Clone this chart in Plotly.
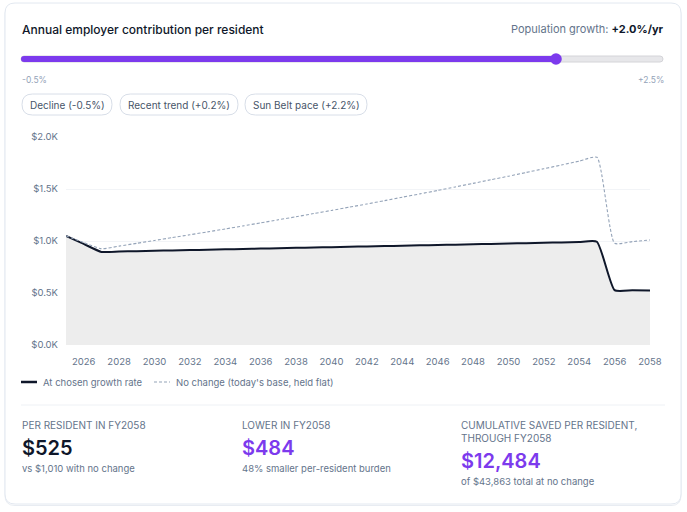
import plotly.graph_objects as go

W, H = 687, 512
FONT = "Inter"
INK = "#0f172a"
MUTED = "#64748b"
FAINT = "#94a3b8"
PURPLE = "#7c3aed"

# --- data ---
years = list(range(2025, 2059))
chosen = [1050, 972,
          895, 899, 902, 906, 909, 913, 916, 920, 923, 927, 930, 934, 937, 941, 944,
          948, 951, 955, 958, 962, 965, 969, 972, 976, 979, 983, 986, 990, 993,
          527, 526, 525]
no_change = [1050, 985,
             925, 951, 978, 1005, 1033, 1060, 1088, 1116, 1145, 1174, 1204, 1233, 1264, 1294, 1325,
             1356, 1388, 1421, 1453, 1486, 1520, 1554, 1589, 1623, 1659, 1695, 1731, 1768, 1805,
             978, 994, 1010]

x_ticks = list(range(2026, 2059, 2))
y_ticks = [0, 500, 1000, 1500, 2000]
y_tick_labels = ["$0.0K", "$0.5K", "$1.0K", "$1.5K", "$2.0K"]

growth_min, growth_max, growth_now = -0.5, 2.5, 2.0
presets = ["Decline (-0.5%)", "Recent trend (+0.2%)", "Sun Belt pace (+2.2%)"]
series_names = ["At chosen growth rate", "No change (today's base, held flat)"]

stat_labels = ["PER RESIDENT IN FY2058", "LOWER IN FY2058",
               "CUMULATIVE SAVED PER RESIDENT,<br>THROUGH FY2058"]
stat_values = ["$525", "$484", "$12,484"]
stat_notes = ["vs $1,010 with no change", "48% smaller per-resident burden",
              "of $43,863 total at no change"]


# pixel -> paper helpers (margins are zero, so paper == page)
def X(px):
    return px / W


def Y(py):
    return 1 - py / H


def rrect(x0, y0, x1, y1, r):
    return (f"M {X(x0 + r)},{Y(y0)} L {X(x1 - r)},{Y(y0)} "
            f"Q {X(x1)},{Y(y0)} {X(x1)},{Y(y0 + r)} L {X(x1)},{Y(y1 - r)} "
            f"Q {X(x1)},{Y(y1)} {X(x1 - r)},{Y(y1)} L {X(x0 + r)},{Y(y1)} "
            f"Q {X(x0)},{Y(y1)} {X(x0)},{Y(y1 - r)} L {X(x0)},{Y(y0 + r)} "
            f"Q {X(x0)},{Y(y0)} {X(x0 + r)},{Y(y0)} Z")


def note(text, x, y, size=9.5, color=MUTED, anchor="left", weight=400):
    return dict(text=text, x=X(x), y=Y(y), xref="paper", yref="paper",
                xanchor=anchor, yanchor="middle", showarrow=False, align="left",
                font=dict(family=FONT, size=size, color=color, weight=weight))


fig = go.Figure()
fig.add_trace(go.Scatter(
    x=years, y=chosen, mode="lines", name=series_names[0],
    line=dict(color=INK, width=2, shape="spline", smoothing=0.5),
    fill="tozeroy", fillcolor="#ededed", showlegend=False, hoverinfo="skip",
))
fig.add_trace(go.Scatter(
    x=years, y=no_change, mode="lines", name=series_names[1],
    line=dict(color=FAINT, width=1.1, dash="3px,2px", shape="spline", smoothing=0.5),
    showlegend=False, hoverinfo="skip",
))

shapes = [
    # card
    dict(type="path", path=rrect(5, 4.5, 681, 505.5, 10), xref="paper", yref="paper",
         line=dict(color="#e8ecf2", width=1), fillcolor="rgba(0,0,0,0)", layer="below"),
    dict(type="path", path=rrect(5, 3, 681, 504, 10), xref="paper", yref="paper",
         line=dict(color="#e2e8f0", width=1), fillcolor="white", layer="below"),
]

# slider
knob = 21 + (growth_now - growth_min) / (growth_max - growth_min) * (663 - 21)
shapes += [
    dict(type="path", path=rrect(21, 56, 663, 62, 3), xref="paper", yref="paper",
         line=dict(color="#d4d4d8", width=1), fillcolor="#e7e7ea"),
    dict(type="path", path=rrect(21, 56, knob, 62, 3), xref="paper", yref="paper",
         line=dict(color=PURPLE, width=0), fillcolor=PURPLE),
    dict(type="circle", xref="paper", yref="paper",
         x0=X(knob - 5.8), x1=X(knob + 5.8), y0=Y(59 + 5.8), y1=Y(59 - 5.8),
         line=dict(color=PURPLE, width=0), fillcolor=PURPLE),
]

# preset pills
pill_x = [(22, 112), (120, 238), (245, 367)]
for (a, b) in pill_x:
    shapes.append(dict(type="path", path=rrect(a, 94, b, 115, 10.5), xref="paper", yref="paper",
                       line=dict(color="#d8dee8", width=1), fillcolor="white"))

# legend swatches + divider
shapes += [
    dict(type="line", xref="paper", yref="paper", x0=X(21), x1=X(37), y0=Y(382), y1=Y(382),
         line=dict(color=INK, width=2.5)),
    dict(type="line", xref="paper", yref="paper", x0=X(154), x1=X(170), y0=Y(382), y1=Y(382),
         line=dict(color=FAINT, width=1.1, dash="3px,2px")),
    dict(type="line", xref="paper", yref="paper", x0=X(21), x1=X(665), y0=Y(405), y1=Y(405),
         line=dict(color="#eef1f5", width=1)),
]

annotations = [
    note("Annual employer contribution per resident", 20, 29, size=12, color=INK, weight=500),
    note(f"Population growth: <span style='color:{INK}'><b>+{growth_now:.1f}%/yr</b></span>",
         666, 29, size=11, color=MUTED, anchor="right"),
    note(f"{growth_min:+.1f}%".replace("+", ""), 20, 80, size=8.5, color=FAINT),
    note(f"{growth_max:+.1f}%", 666, 80, size=8.5, color=FAINT, anchor="right"),
    note(series_names[0], 41, 382),
    note(series_names[1], 174, 382),
]
for (a, b), label in zip(pill_x, presets):
    annotations.append(note(label, (a + b) / 2, 104.5, size=10, color="#475569", anchor="center"))

col_x = [20, 240, 459]
annotations += [
    note(stat_labels[0], col_x[0], 425, size=10),
    note(stat_values[0], col_x[0], 448, size=20, color=INK, weight=600),
    note(stat_notes[0], col_x[0], 468),
    note(stat_labels[1], col_x[1], 425, size=10),
    note(stat_values[1], col_x[1], 448, size=20, color=PURPLE, weight=600),
    note(stat_notes[1], col_x[1], 468),
    note(stat_labels[2], col_x[2], 431, size=10),
    note(stat_values[2], col_x[2], 461, size=20, color=PURPLE, weight=600),
    note(stat_notes[2], col_x[2], 481),
]

fig.update_layout(
    width=W, height=H,
    margin=dict(l=0, r=0, t=0, b=0, autoexpand=False),
    paper_bgcolor="white",
    plot_bgcolor="rgba(0,0,0,0)",
    font=dict(family=FONT, color=MUTED),
    shapes=shapes,
    annotations=annotations,
    xaxis=dict(domain=[X(66), X(650)], range=[2025, 2058], tickvals=x_ticks, automargin=False,
               showgrid=False, zeroline=False, showline=False, ticks="",
               tickfont=dict(size=9.5, color=MUTED), ticklabelstandoff=9, fixedrange=True),
    yaxis=dict(domain=[Y(345), Y(137)], range=[0, 2000], tickvals=y_ticks, automargin=False,
               ticktext=y_tick_labels, showgrid=True, gridcolor="#f2f4f7", gridwidth=1,
               zeroline=False, showline=False, ticks="",
               tickfont=dict(size=9.5, color=MUTED), ticklabelstandoff=7, fixedrange=True),
)

# the page's default body margin would push the 687x512 figure past the window
fig.write_html("out.html", config={"displayModeBar": False},
               post_script="document.body.style.margin='0';document.body.style.overflow='hidden';")
